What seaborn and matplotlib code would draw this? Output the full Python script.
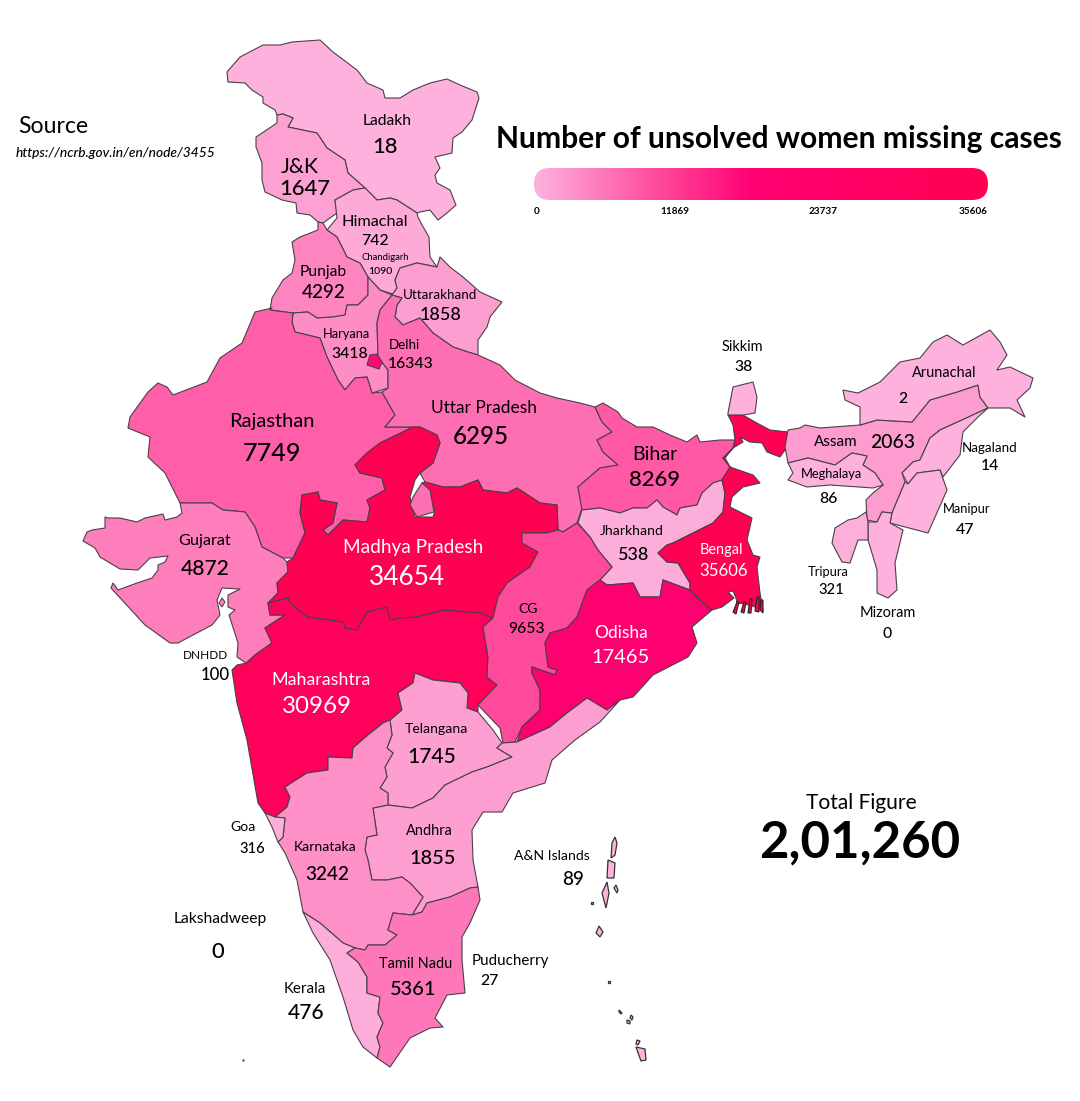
import matplotlib
matplotlib.use("Agg")
import matplotlib.pyplot as plt
import numpy as np
import seaborn as sns
from matplotlib.colors import LinearSegmentedColormap, Normalize
from matplotlib.patches import FancyBboxPatch

# ---------- values ----------
states = ["Ladakh", "J&K", "Himachal", "Punjab", "Haryana", "Uttarakhand", "Rajasthan", "Uttar Pradesh",
          "Lalitpur", "Delhi", "Gujarat", "Madhya Pradesh", "Maharashtra", "Bihar", "Jharkhand", "CG", "Odisha",
          "Bengal", "Sikkim", "Assam", "Meghalaya", "Arunachal", "Nagaland", "Manipur", "Mizoram", "Tripura",
          "Telangana", "Andhra", "Karnataka", "Goa", "Kerala", "Tamil Nadu"]
cases = [18, 1647, 742, 4292, 3418, 1858, 7749, 6295, 6295, 16343, 4872, 34654, 30969, 8269, 538, 9653, 17465,
         35606, 38, 2063, 86, 2, 14, 47, 0, 321, 1745, 1855, 3242, 316, 476, 5361]
tick_values = [0, 11869, 23737, 35606]
total_figure = "2,01,260"

# ---------- state outlines, in map units ----------
Ladakh = [(227,72),(240,57),(263,45),(280,45),(292,42),(320,40),(333,52),(357,70),(367,83),(383,90),(385,98),(400,98),(413,90),(430,83),(447,79),(460,85),(477,92),(479,98),(472,120),(462,132),(453,138),(452,153),(435,157),(440,168),(435,175),(437,183),(450,190),(456,205),(447,213),(438,220),(430,210),(420,212),(417,213),(397,200),(390,198),(377,200),(365,188),(348,173),(345,160),(327,148),(317,133),(288,127),(293,118),(283,114),(277,115),(275,110),(263,103),(263,97),(252,90),(245,83),(228,82)]
JK = [(277,115),(283,114),(293,118),(288,127),(317,133),(327,148),(345,160),(348,173),(365,188),(353,190),(335,200),(337,213),(323,223),(318,222),(310,215),(297,213),(296,203),(282,200),(265,192),(262,180),(262,163),(256,147),(256,137),(277,123)]
Himachal = [(365,188),(377,200),(390,198),(397,200),(417,213),(418,217),(422,225),(429,237),(430,257),(437,267),(417,263),(400,268),(395,280),(397,288),(393,294),(380,290),(368,277),(360,263),(347,257),(337,237),(327,230),(337,218),(335,200),(353,190)]
Punjab = [(323,223),(318,222),(318,230),(300,237),(292,242),(295,260),(292,273),(283,280),(272,298),(270,310),(293,313),(308,312),(317,318),(333,317),(345,315),(347,305),(358,305),(368,295),(368,277),(360,263),(347,257),(337,237),(327,230)]
Haryana = [(368,277),(380,290),(392,295),(380,310),(377,323),(378,357),(388,370),(388,388),(372,393),(367,377),(355,378),(345,390),(338,380),(327,357),(320,338),(295,332),(292,322),(293,313),(308,312),(317,318),(333,317),(345,315),(347,305),(358,305),(368,295)]
Delhi = [(370,355),(377,354),(382,362),(379,369),(373,367),(367,365)]
Uttarakhand = [(437,267),(440,257),(450,267),(463,277),(480,292),(502,302),(490,317),(487,327),(478,340),(478,355),(468,352),(453,347),(433,333),(420,318),(403,325),(395,317),(397,305),(402,298),(392,295),(397,288),(395,280),(400,268),(417,263)]
Rajasthan = [(272,308),(255,312),(242,343),(220,358),(207,382),(173,395),(167,387),(158,383),(148,392),(130,417),(128,428),(150,437),(148,457),(165,473),(180,503),(212,503),(223,510),(245,512),(255,527),(262,547),(283,558),(293,558),(305,533),(300,513),(302,495),(318,492),(320,500),(337,503),(333,523),(323,530),(328,535),(343,520),(367,522),(370,508),(367,500),(385,490),(382,478),(360,473),(355,465),(367,453),(380,443),(413,427),(385,427),(395,415),(382,392),(372,393),(367,377),(355,378),(345,390),(338,380),(327,357),(320,338),(295,332),(292,322),(293,313),(270,310)]
UttarPradesh = [(392,295),(402,298),(397,305),(395,317),(403,325),(420,318),(433,333),(453,347),(468,352),(478,355),(500,365),(515,380),(540,393),(557,398),(580,403),(595,407),(602,422),(612,432),(597,440),(603,452),(618,465),(600,468),(578,487),(582,508),(577,523),(563,532),(558,530),(557,505),(540,503),(517,488),(507,493),(483,490),(478,480),(460,487),(443,487),(425,482),(420,473),(433,463),(440,443),(437,435),(420,427),(413,427),(385,427),(395,415),(382,392),(388,388),(388,370),(378,357),(377,323),(380,310)]
Lalitpur = [(413,497),(422,483),(430,490),(434,512),(417,517),(410,505)]
MadhyaPradesh = [(293,558),(305,533),(300,513),(302,495),(318,492),(320,500),(337,503),(333,523),(323,530),(328,535),(343,520),(367,522),(370,508),(367,500),(385,490),(382,478),(360,473),(355,465),(367,453),(380,443),(413,427),(420,427),(437,435),(440,443),(433,463),(420,473),(415,480),(410,497),(415,517),(433,517),(435,510),(430,500),(422,483),(425,482),(443,487),(460,487),(478,480),(483,490),(507,493),(517,488),(540,503),(557,505),(558,530),(547,533),(522,533),(522,543),(538,552),(530,567),(507,583),(498,597),(493,618),(480,613),(443,610),(417,617),(400,618),(390,620),(387,607),(367,612),(357,630),(345,628),(343,622),(307,617),(290,603),(288,598),(268,603),(278,593),(277,583),(288,572),(287,562)]
Maharashtra = [(268,603),(270,615),(285,615),(265,628),(272,643),(255,655),(247,663),(237,665),(232,670),(237,703),(247,740),(258,803),(265,813),(275,817),(287,807),(290,797),(285,787),(307,773),(328,770),(328,757),(352,758),(353,748),(368,735),(383,723),(390,720),(402,710),(398,693),(413,683),(415,673),(433,680),(460,683),(468,693),(467,708),(478,712),(478,705),(497,685),(487,677),(488,657),(483,627),(493,618),(480,613),(443,610),(417,617),(400,618),(390,620),(387,607),(367,612),(357,630),(345,628),(343,622),(307,617),(290,603),(288,598)]
Gujarat = [(180,503),(182,513),(177,517),(165,520),(163,514),(145,518),(137,522),(120,518),(108,518),(105,517),(105,528),(92,530),(87,532),(83,541),(95,548),(100,557),(120,569),(138,570),(150,558),(168,556),(165,562),(158,565),(158,570),(152,578),(137,583),(118,590),(113,583),(111,588),(145,625),(170,643),(178,643),(212,625),(220,615),(217,600),(222,588),(240,589),(228,595),(228,607),(235,610),(229,615),(238,643),(237,657),(246,663),(255,655),(272,643),(265,628),(285,615),(270,615),(268,603),(278,593),(277,583),(288,572),(287,562),(283,558),(262,547),(255,527),(245,512),(223,510),(212,503)]
Bihar = [(595,407),(603,403),(618,412),(622,418),(637,427),(653,427),(670,435),(687,442),(697,435),(700,442),(720,440),(735,440),(733,448),(723,458),(730,467),(722,480),(713,483),(702,493),(697,505),(680,508),(677,515),(663,507),(657,500),(647,508),(633,508),(620,513),(600,508),(582,510),(578,487),(600,468),(618,465),(603,452),(597,440),(612,432),(602,422)]
Jharkhand = [(582,510),(600,508),(620,513),(633,508),(647,508),(657,500),(663,507),(677,515),(680,508),(697,505),(702,493),(713,483),(722,480),(725,493),(723,512),(713,523),(693,533),(673,543),(667,545),(658,553),(667,562),(678,563),(690,583),(690,590),(663,580),(660,597),(640,597),(633,583),(607,585),(600,580),(612,567),(598,550),(590,537),(578,523)]
Chhattisgarh = [(558,530),(563,532),(577,523),(590,537),(598,550),(612,567),(600,580),(587,590),(577,617),(567,628),(550,633),(545,643),(548,667),(557,670),(555,675),(532,667),(532,673),(540,690),(540,710),(522,727),(515,742),(503,743),(500,728),(478,705),(497,685),(487,677),(488,657),(483,627),(493,618),(498,597),(507,583),(530,567),(538,552),(522,543),(522,533),(547,533)]
Odisha = [(600,580),(607,585),(633,583),(640,597),(660,597),(663,580),(690,590),(700,600),(712,610),(692,627),(697,643),(688,657),(653,675),(633,697),(620,700),(607,710),(587,698),(567,713),(550,727),(517,742),(522,727),(540,710),(540,690),(532,673),(532,667),(555,675),(557,670),(548,667),(545,643),(550,633),(567,628),(577,617),(587,590)]
Bengal = [(728,415),(743,415),(755,422),(770,430),(788,432),(787,447),(780,457),(767,452),(762,443),(750,442),(740,437),(743,442),(733,448),(725,458),(730,467),(753,475),(760,483),(743,487),(732,497),(730,507),(752,518),(747,540),(753,555),(760,557),(757,567),(760,593),(763,610),(755,607),(745,604),(737,603),(736,598),(733,591),(728,592),(734,598),(730,601),(722,607),(712,610),(700,600),(690,590),(690,583),(678,563),(667,562),(658,553),(667,545),(673,543),(693,533),(713,523),(723,512),(725,493),(722,480),(730,467),(723,458),(733,448),(735,440),(733,425)]
Sikkim = [(728,413),(733,387),(753,382),(757,397),(755,413),(743,415),(728,415)]
Assam = [(788,430),(800,428),(805,425),(820,428),(860,425),(877,420),(912,422),(930,400),(957,392),(978,385),(980,397),(988,408),(962,420),(940,430),(930,438),(920,460),(913,462),(902,473),(905,482),(892,513),(882,512),(877,522),(867,520),(866,500),(873,493),(883,485),(875,473),(863,465),(867,456),(852,453),(835,465),(808,458),(788,463),(785,447)]
Meghalaya = [(788,463),(808,458),(835,465),(852,453),(867,456),(863,465),(875,473),(883,485),(873,488),(830,485),(807,487),(788,480),(793,473)]
Arunachal = [(843,390),(858,393),(880,382),(900,362),(920,358),(933,342),(947,335),(963,345),(990,330),(1000,342),(1007,355),(997,370),(1010,367),(1033,378),(1030,388),(1017,400),(1025,417),(1010,408),(988,408),(980,397),(978,385),(957,392),(930,400),(912,422),(877,420),(860,425),(860,407),(845,400)]
Nagaland = [(962,420),(988,408),(978,417),(963,432),(960,455),(943,477),(940,470),(917,473),(908,484),(902,473),(913,462),(920,460),(930,438),(940,430)]
Manipur = [(908,484),(917,473),(940,470),(947,490),(928,533),(890,523),(892,513),(905,482)]
Mizoram = [(868,522),(877,522),(882,512),(892,513),(890,523),(903,530),(895,563),(897,590),(888,598),(877,593),(877,570),(868,540)]
Tripura = [(866,512),(868,522),(868,540),(858,540),(850,563),(842,562),(832,543),(835,528),(848,520),(857,518)]
Telangana = [(415,673),(433,680),(460,683),(468,693),(467,708),(478,712),(493,730),(502,743),(497,748),(512,757),(487,767),(472,772),(445,785),(433,798),(412,808),(388,805),(388,793),(380,788),(387,777),(385,767),(393,753),(387,748),(392,735),(390,720),(402,710),(398,693),(413,683)]
Andhra = [(502,743),(517,742),(550,727),(567,713),(587,698),(607,710),(620,700),(600,722),(575,740),(552,760),(545,783),(513,793),(502,812),(483,812),(472,830),(473,860),(478,887),(470,888),(450,897),(427,903),(422,912),(412,915),(423,897),(410,883),(402,877),(387,880),(372,880),(368,860),(365,850),(367,837),(377,835),(373,808),(388,805),(412,808),(433,798),(445,785),(472,772),(487,767),(512,757),(497,748)]
Karnataka = [(285,818),(275,817),(287,807),(290,797),(285,787),(307,773),(328,770),(328,757),(352,758),(353,748),(368,735),(383,723),(390,720),(392,735),(387,748),(393,753),(385,767),(387,777),(380,788),(388,793),(388,805),(373,808),(377,835),(367,837),(365,850),(368,860),(372,880),(387,880),(402,877),(410,883),(423,897),(412,915),(393,913),(388,930),(397,935),(385,945),(368,945),(365,950),(355,948),(343,943),(320,923),(303,912),(297,880),(285,853),(278,842),(283,837)]
Goa = [(265,813),(275,817),(285,818),(283,837),(278,842),(272,827)]
Kerala = [(303,912),(320,923),(343,943),(355,948),(347,953),(358,962),(367,977),(367,993),(380,997),(378,1013),(383,1023),(377,1037),(380,1047),(377,1058),(363,1047),(353,1030),(343,997),(330,960),(313,933)]
TamilNadu = [(478,887),(480,900),(470,923),(462,937),(462,960),(465,993),(447,995),(435,1018),(443,1027),(430,1028),(410,1038),(390,1067),(377,1058),(380,1047),(377,1037),(383,1023),(378,1013),(380,997),(367,993),(367,977),(358,962),(347,953),(355,948),(365,950),(368,945),(385,945),(397,935),(388,930),(393,913),(412,915),(422,912),(427,903),(450,897),(470,888)]
outlines = [Ladakh, JK, Himachal, Punjab, Haryana, Uttarakhand, Rajasthan, UttarPradesh, Lalitpur, Delhi, Gujarat,
            MadhyaPradesh, Maharashtra, Bihar, Jharkhand, Chhattisgarh, Odisha, Bengal, Sikkim, Assam, Meghalaya,
            Arunachal, Nagaland, Manipur, Mizoram, Tripura, Telangana, Andhra, Karnataka, Goa, Kerala, TamilNadu]

gujarat_island = [(222,598),(225,602),(222,607),(219,603)]
islands = [
    [(615,837),(617,843),(615,855),(611,858),(612,843)],
    [(608,860),(615,863),(614,878),(607,878)],
    [(607,882),(609,893),(606,908),(602,893)],
    [(616,885),(618,890),(617,893),(614,888)],
    [(591,902),(593,902),(593,904),(591,904)],
    [(599,926),(603,932),(600,937),(596,933)],
    [(608,981),(610,981),(610,983),(608,983)],
    [(619,1010),(622,1013),(621,1014),(619,1012)],
    [(631,1015),(633,1017),(632,1020),(630,1018)],
    [(627,1020),(630,1021),(630,1024),(627,1023)],
    [(637,1040),(640,1041),(638,1045),(636,1044)],
    [(636,1047),(645,1049),(646,1060),(641,1061)],
]
sundarbans = [
    [(733,612),(737,602),(739,602),(736,614)],
    [(741,612),(744,602),(746,602),(744,613)],
    [(748,613),(750,599),(752,599),(751,613)],
    [(755,611),(757,597),(759,597),(759,612)],
    [(760,610),(761,600),(763,600),(763,613)],
]

# ---------- labels ----------
label_text = ["Ladakh","18","J&K","1647","Himachal","742","Chandigarh","1090","Punjab","4292","Uttarakhand","1858","Haryana","3418",
              "Delhi","16343","Rajasthan","7749","Uttar Pradesh","6295","Bihar","8269","Sikkim","38","Arunachal","2","Assam","2063",
              "Nagaland","14","Meghalaya","86","Manipur","47","Jharkhand","538","Gujarat","4872","Tripura","321","Mizoram","0",
              "CG","9653","DNHDD","100","Telangana","1745","Goa","316","Andhra","1855","Karnataka","3242","A&N Islands","89",
              "Lakshadweep","0","Puducherry","27","Tamil Nadu","5361","Kerala","476"]
label_x = [387,385,300,305,375,375,385,380,323,324,440,440,346,350,404,411,272,272,484,481,655,655,742,744,944,903,836,893,
           990,990,831,828,967,965,632,633,205,205,828,831,888,887,528,527,206,215,436,432,243,252,429,433,325,327,552,573,
           220,218,510,489,416,413,305,306]
label_y = [120,145,165,187,221,240,257,271,271,291,294,313,333,353,344,363,420,451,406,434,453,478,346,366,372,398,441,441,
           447,465,473,498,508,529,530,553,540,567,571,589,612,633,608,628,654,673,728,755,826,848,830,857,846,873,855,878,
           918,950,960,980,963,988,988,1011]
label_px = [14,21,19,21,14.5,15,8.5,10,14,18,12,17,11.5,15,12,15,18,24,15.5,23,17.5,21,13,15,13,15,13.5,18.5,
            12,15,11.5,15,11.5,15,12.5,17,14.5,20,11.5,14,13,15,12.5,15,10.5,16,12.5,20,12.5,14,13,19,12.5,18,12.5,18,
            14,21,13.5,15,13,19,13.5,20]
white_text = ["Madhya Pradesh","34654","Bengal","35606","Odisha","17465","Maharashtra","30969"]
white_x = [413,407,721,724,621,620,321,317]
white_y = [546,575,549,569,631,656,678,704]
white_px = [17,25,13,16,15.5,19,16,23]

sns.set_theme(style="white")
plt.rcParams["font.family"] = ["Lato", "DejaVu Sans"]

W, H = 1080, 1101
fig = plt.figure(figsize=(W / 100, H / 100), dpi=100, facecolor="white")
ax = fig.add_axes([0, 0, 1, 1])
ax.set_xlim(0, W)
ax.set_ylim(H, 0)
ax.axis("off")

cmap = LinearSegmentedColormap.from_list(
    "missing", [(0, "#FDB1DC"), (0.27, "#FF4A9C"), (0.48, "#FF0072"), (1, "#FF0052")])
norm = Normalize(0, max(tick_values))
edge = "#4a4048"
for outline, name, value in zip(outlines, states, cases):
    xs, ys = zip(*outline)
    z = 3 if name in ("Delhi", "Lalitpur") else 2
    ax.fill(xs, ys, facecolor=cmap(norm(value)), edgecolor=edge, linewidth=0.8, joinstyle="round", zorder=z)
ax.fill(*zip(*gujarat_island), facecolor=cmap(norm(4872)), edgecolor=edge, linewidth=0.7, zorder=2)
for island in islands:
    xs, ys = zip(*island)
    ax.fill(xs, ys, facecolor="#FDB1DC", edgecolor="#333333", linewidth=0.9, zorder=2)
for island in sundarbans:
    xs, ys = zip(*island)
    ax.fill(xs, ys, facecolor="#FF0052", edgecolor="#222222", linewidth=0.8, zorder=3)
ax.plot([243], [1060], marker=".", ms=1.5, color="#555555")


def put(x, y, s, px, color="black", **kw):
    kw.setdefault("ha", "center")
    ax.text(x, y + 0.09 * px, s, fontsize=px * 0.72, color=color, va="center", zorder=6, **kw)


word_scale, number_scale = 1.12, 1.05
for s, x, y, px in zip(label_text, label_x, label_y, label_px):
    if s.isdigit():
        put(x, y, s, px * number_scale, weight="medium")
    else:
        put(x, y, s, px * word_scale)
for s, x, y, px in zip(white_text, white_x, white_y, white_px):
    put(x, y, s, px * (number_scale if s.isdigit() else word_scale), color="white")

put(53, 124, "Source", 23)
put(16, 152, "https://ncrb.gov.in/en/node/3455", 13.8, ha="left", style="italic", weight="medium")
put(779, 136, "Number of unsolved women missing cases", 30, weight="bold")
put(861, 801, "Total Figure", 21)
put(860, 838, total_figure, 51, weight="bold")

# colour bar: a one-row heatmap clipped to a rounded bar
bar = dict(x=534, y=168, w=454, h=32)
cax = fig.add_axes([bar["x"] / W, 1 - (bar["y"] + bar["h"]) / H, bar["w"] / W, bar["h"] / H], zorder=4)
gradient = np.linspace(0, max(tick_values), 300)[None, :]
sns.heatmap(gradient, ax=cax, cmap=cmap, norm=norm, cbar=False, xticklabels=False, yticklabels=False)
cax.axis("off")
r = bar["h"] / 2
clip = FancyBboxPatch((bar["x"], bar["y"]), bar["w"], bar["h"], boxstyle=f"round,pad=0,rounding_size={r}",
                      transform=ax.transData, facecolor="none", edgecolor="none")
ax.add_patch(clip)
for coll in cax.collections:
    coll.set_clip_path(clip)

aligns = ["left", "center", "center", "right"]
tick_x = [534, 675, 823, 988]
for v, x, a in zip(tick_values, tick_x, aligns):
    put(x, 211, str(v), 10, ha=a, weight="bold")

fig.savefig("out.png", dpi=100, facecolor="white")
